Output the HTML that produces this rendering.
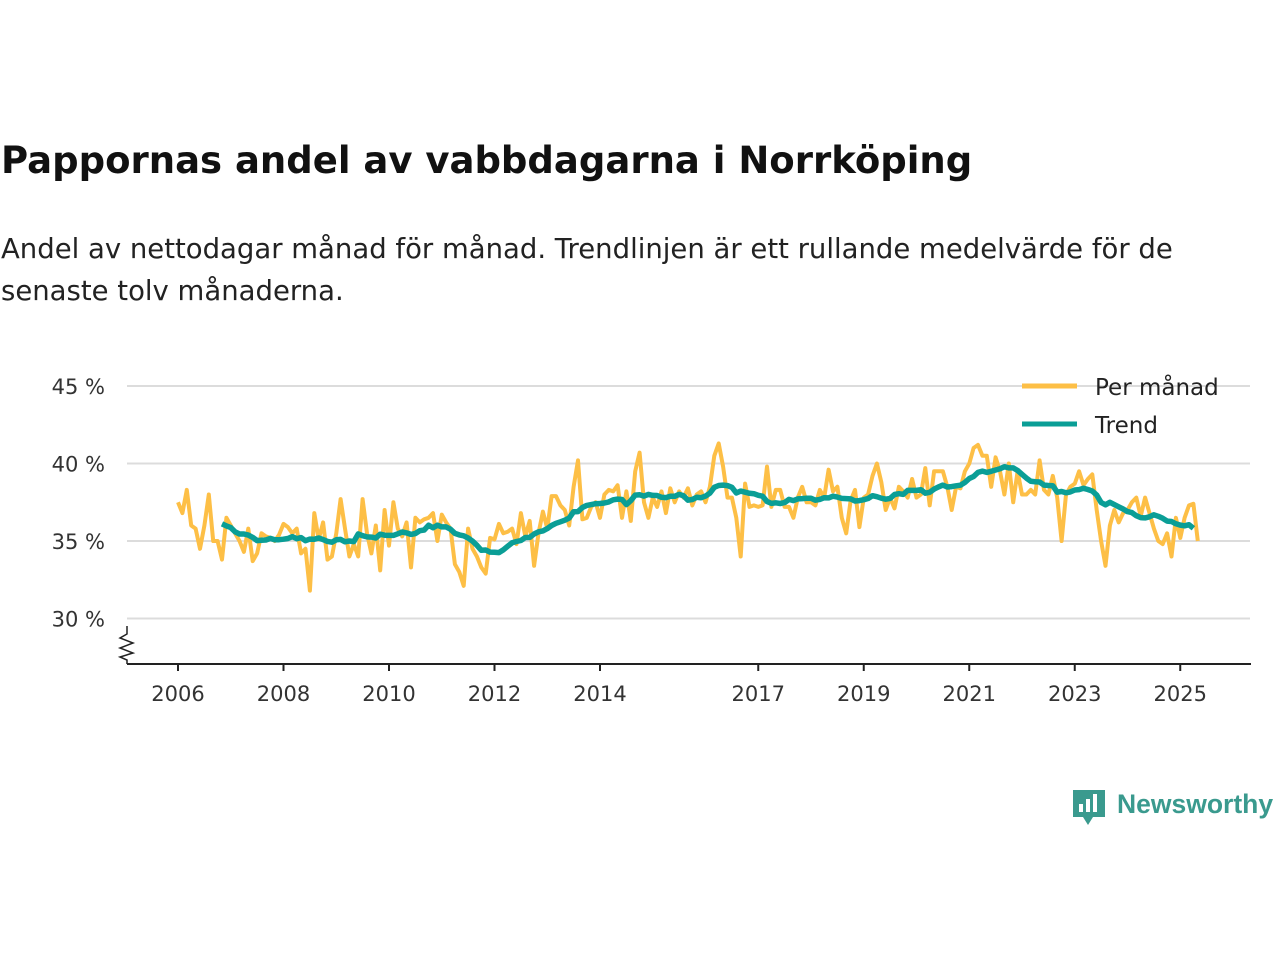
<!DOCTYPE html>
<html><head><meta charset="utf-8">
<style>
body{margin:0;width:1280px;height:960px;background:#fff;font-family:"DejaVu Sans","Liberation Sans",sans-serif;overflow:hidden;position:relative}
#title{position:absolute;left:1px;top:139px;font-size:37px;font-weight:bold;color:#111;margin:0;white-space:nowrap}
#sub{position:absolute;left:1px;top:228px;font-size:27.5px;color:#222;line-height:42px;width:1240px;margin:0}
svg{position:absolute;left:0;top:0}
svg text{font-family:"DejaVu Sans","Liberation Sans",sans-serif}
</style></head><body>
<h1 id="title">Pappornas andel av vabbdagarna i Norrköping</h1>
<p id="sub">Andel av nettodagar månad för månad. Trendlinjen är ett rullande medelvärde för de senaste tolv månaderna.</p>
<svg id="chart" width="1280" height="960"></svg>
<script>
const startYear = 2006;
const yTicks = [30, 35, 40, 45];
const xTickYears = [2006, 2008, 2010, 2012, 2014, 2017, 2019, 2021, 2023, 2025];
const monthly = [
37.5,36.8,38.3,36,35.8,34.5,36,38,35,35,33.8,36.5,
36,35.5,35,34.3,35.8,33.7,34.2,35.5,35.3,35.2,35,35.4,
36.1,35.9,35.5,35.8,34.2,34.5,31.8,36.8,35.1,36.2,33.8,34,
35.5,37.7,35.8,34,34.8,34,37.7,35.5,34.2,36,33.1,37,
34.7,37.5,35.8,35.3,36.2,33.3,36.5,36.2,36.4,36.5,36.8,35,
36.7,36.2,35.8,33.5,33,32.1,35.8,34.5,34,33.3,32.9,35.2,
35.1,36.1,35.5,35.6,35.8,34.8,36.8,35.3,36.3,33.4,35.5,36.9,
35.8,37.9,37.9,37.3,37,36,38.5,40.2,36.4,36.5,37.2,37.5,
36.5,38,38.3,38.2,38.6,36.5,38.2,36.3,39.5,40.7,37.5,36.5,
37.8,37.2,38.2,36.8,38.4,37.5,38.2,37.8,38.4,37.3,38,38.2,
37.5,38.5,40.5,41.3,39.8,37.8,37.8,36.5,34,38.7,37.2,37.3,
37.2,37.3,39.8,37.2,38.3,38.3,37.2,37.2,36.5,37.8,38.5,37.5,
37.5,37.3,38.3,37.8,39.6,38.2,38.5,36.5,35.5,37.6,38.3,35.9,
37.8,38,39.2,40,38.8,37,37.8,37.1,38.5,38.2,37.8,39,
37.8,38,39.7,37.3,39.5,39.5,39.5,38.5,37,38.5,38.4,39.5,
40,41,41.2,40.5,40.5,38.5,40.4,39.5,38,40,37.5,39.5,
38,38,38.3,38,40.2,38.3,38,39.2,37.8,35,38,38.5,
38.7,39.5,38.6,39,39.3,37,35,33.4,36,37,36.2,36.8,
37,37.5,37.8,36.6,37.8,36.8,35.8,35,34.8,35.5,34,36.5,
35.2,36.5,37.3,37.4,35
];
const svg = document.getElementById('chart');
const NS = 'http://www.w3.org/2000/svg';
const xs = t => 178 + (t - startYear) * 52.75;
const ys = v => 541 - (v - 35) * 15.5;
function mk(tag, attrs, parent){const e=document.createElementNS(NS,tag);for(const k in attrs)e.setAttribute(k,attrs[k]);(parent||svg).appendChild(e);return e;}
yTicks.forEach(v=>{
  const g = mk('line',{x1:127,x2:1250,y1:ys(v),y2:ys(v),stroke:'#dcdcdc','stroke-width':2});
  
  
  const t = mk('text',{x:105,y:ys(v)+8,'text-anchor':'end','font-size':21,fill:'#333'});
  t.textContent = v+' %';
  
  
});
const ax = mk('line',{x1:127,x2:1251,y1:664,y2:664,stroke:'#222','stroke-width':2});


const br = mk('polyline',{points:'127,626 127,634 120,638 133,643 120,648 133,653 120,657 127,660 127,664',fill:'none',stroke:'#222','stroke-width':1.5});


xTickYears.forEach(y=>{
  const l = mk('line',{x1:xs(y),x2:xs(y),y1:664,y2:671,stroke:'#222','stroke-width':2});
  
  
  const t = mk('text',{x:xs(y),y:701,'text-anchor':'middle','font-size':21,fill:'#333'});
  t.textContent = y;
  
  
});
const mp = monthly.map((v,i)=>xs(startYear+i/12).toFixed(1)+','+ys(v).toFixed(1)).join(' ');
const ml = mk('polyline',{points:mp,fill:'none',stroke:'#fdbf46','stroke-width':4,'stroke-linejoin':'round'});


const trend=[];
for(let i=11;i<monthly.length;i++){let s=0;for(let j=i-11;j<=i;j++)s+=monthly[j];trend.push(xs(startYear+(i-1)/12).toFixed(1)+','+ys(s/12).toFixed(1));}
const tl = mk('polyline',{points:trend.join(' '),fill:'none',stroke:'#0a9e96','stroke-width':5.5,'stroke-linejoin':'round'});


[['Per månad','#fdbf46',386],['Trend','#0a9e96',424]].forEach(([n,c,y])=>{
  const g = mk('g',{});
  
  
  mk('line',{x1:1022,x2:1077,y1:y,y2:y,stroke:c,'stroke-width':5},g);
  const t = mk('text',{x:1095,y:y+9,'font-size':23,fill:'#222'},g);
  t.textContent=n;
});
const logo = mk('g',{});


mk('path',{d:'M1073 790 h32 v27 h-12 l-5 8 l-5 -8 h-10 z',fill:'#3a9a8e'},logo);
mk('rect',{x:1079,y:804,width:4,height:8,fill:'#fff'},logo);
mk('rect',{x:1086,y:799,width:4,height:13,fill:'#fff'},logo);
mk('rect',{x:1093,y:794,width:4,height:18,fill:'#fff'},logo);
const lt = mk('text',{x:1117,y:813,'font-size':26.5,'font-weight':'bold',fill:'#3a9a8e',style:'font-family:"Liberation Sans",sans-serif'},logo);
lt.textContent='Newsworthy';
</script>
</body></html>
